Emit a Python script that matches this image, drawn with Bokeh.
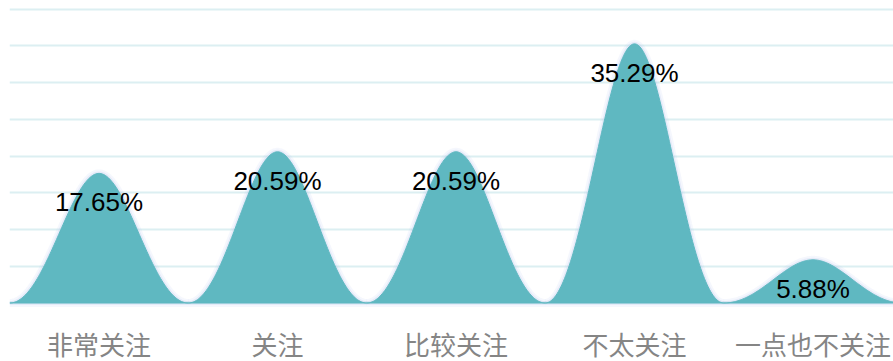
import numpy as np
from bokeh.plotting import figure
from bokeh.models import Range1d, FixedTicker, ColumnDataSource
from bokeh.core.properties import value
from bokeh.embed import file_html
from bokeh.resources import INLINE

categories = ["非常关注", "关注", "比较关注", "不太关注", "一点也不关注"]
values = [17.65, 20.59, 20.59, 35.29, 5.88]
value_labels = ["17.65%", "20.59%", "20.59%", "35.29%", "5.88%"]
grid_ticks = [0, 5, 10, 15, 20, 25, 30, 35, 40]

BAR_COLOR = "#5FB8C1"


def bezier(p0, p1, p2, p3, t):
    t = t[:, None]
    return ((1 - t) ** 3) * p0 + 3 * ((1 - t) ** 2) * t * p1 + 3 * (1 - t) * t ** 2 * p2 + t ** 3 * p3


# symbol path in a 10x10 box: M0,10 C2,10 3.4,0 5,0 C6.6,0 8,10 10,10
tt = np.linspace(0, 1, 80)
left = bezier(np.array([0, 10.0]), np.array([2, 10.0]), np.array([3.4, 0.0]), np.array([5, 0.0]), tt)
right = bezier(np.array([5, 0.0]), np.array([6.6, 0.0]), np.array([8, 10.0]), np.array([10, 10.0]), tt)
shape = np.vstack([left, right[1:]])
sx = (shape[:, 0] - 5) / 10.0
sy = (10 - shape[:, 1]) / 10.0

xs, ys = [], []
for i, v in enumerate(values):
    xs.append(list(i + sx))
    ys.append(list(v * sy))

src = ColumnDataSource(dict(xs=xs, ys=ys))
idx = list(range(len(categories)))

p = figure(width=893, height=361, output_backend="svg", toolbar_location=None,
           x_range=Range1d(-0.5014, 4.4510), y_range=Range1d(-7.966, 41.19),
           min_border_left=9, min_border_right=0, min_border_top=0, min_border_bottom=0)
p.outline_line_color = None
p.background_fill_color = "white"
p.border_fill_color = "white"

p.xgrid.visible = False
p.ygrid.ticker = FixedTicker(ticks=grid_ticks)
p.ygrid.grid_line_color = "#DCEFF2"
p.ygrid.grid_line_width = 2
p.yaxis.visible = False
p.xaxis.visible = False

# soft glow around the bumps
p.patches("xs", "ys", source=src, fill_color=None, line_color="#A9BCEB", line_width=8, line_alpha=0.12)
p.patches("xs", "ys", source=src, fill_color=None, line_color="#A9BCEB", line_width=4, line_alpha=0.2)
p.patches("xs", "ys", source=src, fill_color=BAR_COLOR, line_color=BAR_COLOR, line_width=1)

p.text(x=idx, y=values, text=value_labels,
       text_align="center", text_baseline="middle", y_offset=29,
       text_font=value("Liberation Sans"), text_font_size="26px", text_color="#000000")

# category labels under the baseline
p.text(x=idx, y=[0] * len(idx), text=categories,
       text_align="center", text_baseline="middle", y_offset=41,
       text_font=value("Noto Sans CJK SC"), text_font_size="26px", text_color="#858585")

open("out.html", "w").write(file_html(p, INLINE))
